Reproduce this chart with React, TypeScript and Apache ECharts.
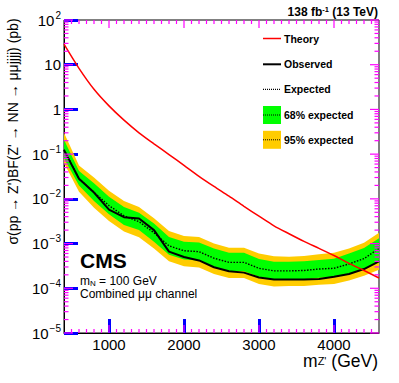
import React, { useEffect, useRef } from 'react';
import * as echarts from 'echarts';

const masses = [400, 600, 800, 1000, 1200, 1400, 1600, 1800, 2000, 2200, 2400, 2600, 2800, 3000, 3200, 3400, 3600, 3800, 4000, 4200, 4400, 4600];
const theory = [28.8, 8.3, 2.82, 1.2, 0.575, 0.3, 0.17, 0.098, 0.056, 0.032, 0.019, 0.0115, 0.0068, 0.0041, 0.0025, 0.00166, 0.00112, 0.00078, 0.00054, 0.00036, 0.00025, 0.00017];
const observed = [0.123, 0.0282, 0.0138, 0.00575, 0.00389, 0.00363, 0.002, 0.00066, 0.0005, 0.00042, 0.000295, 0.00024, 0.000224, 0.000174, 0.000158, 0.000158, 0.000158, 0.000162, 0.000182, 0.000209, 0.000269, 0.000398];
const expected = [0.126, 0.0282, 0.0141, 0.00708, 0.00417, 0.00309, 0.00174, 0.00089, 0.00069, 0.00066, 0.00047, 0.00038, 0.00038, 0.00028, 0.000245, 0.000245, 0.00025, 0.00027, 0.00028, 0.00035, 0.00046, 0.00078];
const band68Low = [0.081, 0.02, 0.0089, 0.0045, 0.0026, 0.002, 0.0011, 0.00056, 0.00044, 0.00042, 0.0003, 0.00024, 0.00024, 0.00018, 0.000158, 0.000158, 0.00016, 0.000172, 0.00018, 0.000205, 0.00027, 0.00039];
const band68High = [0.21, 0.042, 0.0224, 0.0112, 0.0066, 0.0049, 0.0028, 0.00141, 0.0011, 0.00105, 0.00078, 0.00062, 0.00062, 0.00045, 0.00039, 0.00039, 0.0004, 0.00043, 0.00046, 0.0006, 0.0008, 0.00132];
const band95Low = [0.063, 0.0145, 0.0063, 0.0032, 0.00186, 0.00138, 0.00078, 0.0004, 0.00031, 0.00029, 0.00021, 0.00017, 0.00017, 0.000125, 0.00011, 0.000112, 0.000113, 0.00012, 0.000125, 0.00015, 0.00019, 0.00026];
const band95High = [0.3, 0.056, 0.03, 0.0152, 0.0089, 0.0066, 0.0037, 0.0019, 0.00148, 0.00141, 0.00101, 0.00081, 0.00081, 0.0006, 0.00052, 0.00051, 0.00053, 0.00058, 0.00062, 0.00078, 0.00104, 0.00174];
const xMin = 400;
const xMax = 4600;
const xMajorStep = 1000;
const xMinorStep = 100;
const yMin = 1e-5;
const yMax = 1e2;
const legendLabels = ['Theory', 'Observed', 'Expected', '68% expected', '95% expected'];

const FONT = '"Liberation Sans", Arial, Helvetica, sans-serif';
const GREEN = '#00ff00';
const YELLOW = '#ffcc00';
const TICK_W = 1.2;

function yTickList(): [number, number][] {
  const out: [number, number][] = [];
  for (let e = -5; e <= 2; e++) {
    out.push([Math.pow(10, e), 9]);
    if (e < 2) for (let k = 2; k <= 9; k++) out.push([k * Math.pow(10, e), 4.5]);
  }
  return out;
}

function xTickList(): [number, number][] {
  const out: [number, number][] = [];
  for (let v = xMin + xMinorStep; v < xMax; v += xMinorStep) out.push([v, v % xMajorStep === 0 ? 8 : 4]);
  return out;
}

function bandSeries(name: string, low: number[], high: number[], color: string) {
  return {
    type: 'custom',
    name,
    silent: true,
    clip: true,
    data: [[masses[0], low[0]]],
    renderItem: (_params: any, api: any) => {
      const pts: number[][] = [];
      for (let i = 0; i < masses.length; i++) pts.push(api.coord([masses[i], high[i]]));
      for (let i = masses.length - 1; i >= 0; i--) pts.push(api.coord([masses[i], low[i]]));
      return { type: 'polygon', shape: { points: pts }, style: { fill: color, stroke: 'none' } };
    },
  };
}

function ticksSeries() {
  return {
    type: 'custom',
    silent: true,
    clip: false,
    z: 20,
    data: [[1000, 1]],
    renderItem: (_params: any, api: any) => {
      const segs: any[] = [];
      xTickList().forEach(([v, len]) => {
        const b = api.coord([v, yMin]);
        const t = api.coord([v, yMax]);
        segs.push({ type: 'line', shape: { x1: b[0], y1: b[1], x2: b[0], y2: b[1] - len }, style: { stroke: '#ff00ff', lineWidth: TICK_W } });
        segs.push({ type: 'line', shape: { x1: t[0], y1: t[1], x2: t[0], y2: t[1] + len }, style: { stroke: '#ff00ff', lineWidth: TICK_W } });
      });
      yTickList().forEach(([v, len]) => {
        const l = api.coord([xMin, v]);
        const r = api.coord([xMax, v]);
        segs.push({ type: 'line', shape: { x1: l[0], y1: l[1], x2: l[0] + len, y2: l[1] }, style: { stroke: '#ff00ff', lineWidth: TICK_W } });
        segs.push({ type: 'line', shape: { x1: r[0], y1: r[1], x2: r[0] - len, y2: r[1] }, style: { stroke: '#ff00ff', lineWidth: TICK_W } });
      });
      return { type: 'group', children: segs };
    },
  };
}

export default function App() {
  const ref = useRef<HTMLDivElement>(null);
  useEffect(() => {
    if (!ref.current) return;
    const chart = echarts.init(ref.current, null, { renderer: 'svg' });
    const lg = (i: number) => [38.5, 64.3, 89.3, 115, 139.8][i];
    const legendX = 263;
    const textX = 284;
    const option: any = {
      animation: false,
      grid: { left: 64, right: 20, top: 20, bottom: 50, show: true, borderColor: '#000', borderWidth: 1, backgroundColor: 'transparent' },
      xAxis: {
        type: 'value', min: xMin, max: xMax,
        splitLine: { show: false },
        axisLine: { show: true, onZero: false, lineStyle: { color: '#000', width: 1 } },
        axisTick: { show: true, inside: true, length: 14, lineStyle: { color: '#0000ff', width: 3 } },
        axisLabel: {
          showMinLabel: false, showMaxLabel: false, fontSize: 15, lineHeight: 14, color: '#000', margin: 4, fontFamily: FONT,
          formatter: (v: number) => (v % 1000 === 0 ? String(Math.round(v)) : ''),
        },
      },
      yAxis: {
        type: 'log', min: yMin, max: yMax,
        splitLine: { show: false },
        axisLine: { show: true, onZero: false, lineStyle: { color: '#000', width: 1 } },
        axisTick: { show: true, inside: true, length: 14, lineStyle: { color: '#0000ff', width: 3 } },
        axisLabel: {
          show: true, showMinLabel: true, showMaxLabel: true, margin: 3, color: '#000', fontSize: 15, fontFamily: FONT,
          formatter: (v: number) => {
            const e = Math.round(Math.log10(v));
            if (e === 0) return '{b|1}';
            if (e === 1) return '{b|10}';
            return `{b|10}{s|${e < 0 ? '\u2212' : ''}${Math.abs(e)}}`;
          },
          rich: {
            b: { fontSize: 15, lineHeight: 20, fontFamily: FONT, color: '#000' },
            s: { fontSize: 10, lineHeight: 20, verticalAlign: 'top', fontFamily: FONT, color: '#000', padding: [0, 0, 0, 1] },
          },
        },
      },
      series: [
        bandSeries('95% expected', band95Low, band95High, YELLOW),
        bandSeries('68% expected', band68Low, band68High, GREEN),
        {
          type: 'line', name: 'Expected', showSymbol: false, silent: true,
          data: masses.map((m, i) => [m, expected[i]]),
          lineStyle: { color: '#000', width: 1.4, type: [1.5, 1.5] },
        },
        {
          type: 'line', name: 'Observed', showSymbol: false, silent: true,
          data: masses.map((m, i) => [m, observed[i]]),
          lineStyle: { color: '#000', width: 2 },
        },
        {
          type: 'line', name: 'Theory', showSymbol: false, silent: true, smooth: 0.3,
          data: masses.map((m, i) => [m, theory[i]]),
          lineStyle: { color: '#ff0000', width: 1.5 },
        },
        ticksSeries(),
      ],
      graphic: [
        { type: 'line', shape: { x1: legendX, y1: lg(0), x2: legendX + 18, y2: lg(0) }, style: { stroke: '#ff0000', lineWidth: 1.5 } },
        { type: 'line', shape: { x1: legendX, y1: lg(1), x2: legendX + 18, y2: lg(1) }, style: { stroke: '#000', lineWidth: 2 } },
        { type: 'line', shape: { x1: legendX, y1: lg(2), x2: legendX + 18, y2: lg(2) }, style: { stroke: '#000', lineWidth: 1.2, lineDash: [1, 1] } },
        { type: 'rect', shape: { x: legendX, y: lg(3) - 9, width: 18, height: 18 }, style: { fill: GREEN } },
        { type: 'line', shape: { x1: legendX, y1: lg(3), x2: legendX + 18, y2: lg(3) }, style: { stroke: '#000', lineWidth: 1, lineDash: [1, 1] } },
        { type: 'rect', shape: { x: legendX, y: lg(4) - 9, width: 18, height: 18 }, style: { fill: YELLOW } },
        { type: 'line', shape: { x1: legendX, y1: lg(4), x2: legendX + 18, y2: lg(4) }, style: { stroke: '#000', lineWidth: 1, lineDash: [1, 1] } },
        ...legendLabels.map((t, i) => ({
          type: 'text', x: textX, y: lg(i),
          style: { text: t, fontSize: 10.5, fontWeight: 'bold', fontFamily: FONT, fill: '#000', textAlign: 'left', textVerticalAlign: 'middle' },
        })),
        {
          type: 'text', x: 378, y: 12,
          style: {
            text: '{a|138 fb}{s|-1}{a| (13 TeV)}', textAlign: 'right', textVerticalAlign: 'middle', fontFamily: FONT,
            rich: {
              a: { fontSize: 12, fontWeight: 'bold', fontFamily: FONT, fill: '#000', lineHeight: 14 },
              s: { fontSize: 7.5, fontWeight: 'bold', fontFamily: FONT, fill: '#000', verticalAlign: 'top', lineHeight: 14 },
            },
          },
        },
        { type: 'text', x: 80, y: 260, style: { text: 'CMS', fontSize: 21, fontWeight: 'bold', fontFamily: FONT, fill: '#000', textVerticalAlign: 'middle' } },
        {
          type: 'text', x: 80, y: 281,
          style: {
            text: '{a|m}{n|N}{a| = 100 GeV}', textVerticalAlign: 'middle', fontFamily: FONT,
            rich: {
              a: { fontSize: 12, fontFamily: FONT, fill: '#000', lineHeight: 12 },
              n: { fontSize: 8, fontFamily: FONT, fill: '#000', verticalAlign: 'bottom', lineHeight: 12 },
            },
          },
        },
        { type: 'text', x: 80, y: 293.5, style: { text: 'Combined \u03bc\u03bc channel', fontSize: 12, lineHeight: 12, fontFamily: FONT, fill: '#000', textVerticalAlign: 'middle' } },
        {
          type: 'text', x: 378, y: 360.5,
          style: {
            text: "{a|m}{z|Z'}{a| (GeV)}", textAlign: 'right', textVerticalAlign: 'middle', fontFamily: FONT,
            rich: {
              a: { fontSize: 17.5, fontFamily: FONT, fill: '#000', lineHeight: 12 },
              z: { fontSize: 11, fontFamily: FONT, fill: '#000', verticalAlign: 'bottom', lineHeight: 12 },
            },
          },
        },
        {
          type: 'text', x: 12.5, y: 131.5, rotation: Math.PI / 2,
          style: {
            text: "\u03c3(pp \u2192 Z')BF(Z' \u2192 NN \u2192 \u03bc\u03bcjjjj) (pb)",
            fontSize: 14, fontFamily: FONT, fill: '#000', textAlign: 'center', textVerticalAlign: 'middle',
          },
        },
      ],
    };
    chart.setOption(option);
    return () => chart.dispose();
  }, []);
  return <div ref={ref} style={{ position: 'absolute', left: 0, top: 0, width: 399, height: 383 }} />;
}
